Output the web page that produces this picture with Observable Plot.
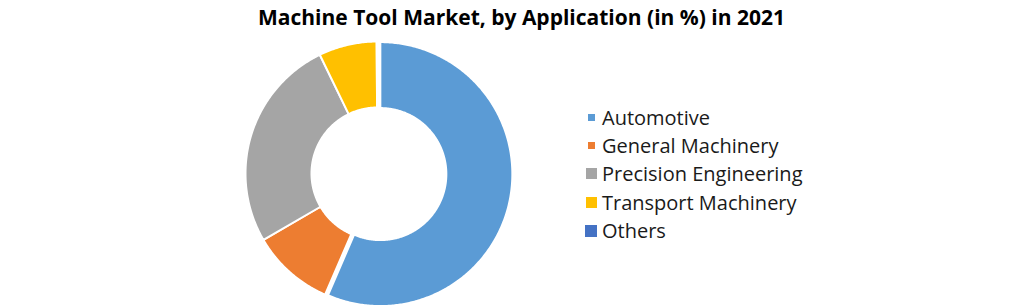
<!DOCTYPE html>
<html>
<head>
<meta charset="utf-8">
<script src="https://cdn.jsdelivr.net/npm/d3@7"></script>
<script src="https://cdn.jsdelivr.net/npm/@observablehq/plot@0.6"></script>
<style>
  html, body { margin: 0; padding: 0; background: #fff; }
  #chart { position: relative; width: 1031px; height: 308px; overflow: hidden; font-family: "Open Sans", Lato, sans-serif; }
  #title { position: absolute; left: 0; top: 2px; width: 1043px; text-align: center; font-weight: bold; font-size: 21px; line-height: 30px; color: #000; }
  #plot { position: absolute; left: 0; top: 36px; }
  #legend { position: absolute; left: 584px; top: 103px; }
  .row { display: flex; align-items: center; height: 28.4px; font-size: 20px; color: #1a1a1a; }
  .swatch-cell { width: 14px; display: flex; justify-content: center; align-items: center; margin-right: 4px; }
</style>
</head>
<body>
<div id="chart">
  <div id="title"></div>
  <div id="plot"></div>
  <div id="legend"></div>
</div>
<script>
// Share of machine tool market by application, 2021 (%)
const title = "Machine Tool Market, by Application (in %) in 2021";
const categories = ["Automotive", "General Machinery", "Precision Engineering", "Transport Machinery", "Others"];
const shares = [56.5, 10.1, 26.2, 7.1, 0.1];
const colors = ["#5B9BD5", "#ED7D31", "#A5A5A5", "#FFC000", "#4472C4"];

// Legend marker sizes (px)
const markerSizes = [7, 7, 11, 11, 12];

const rows = categories.map((category, i) => ({category, share: shares[i]}));

// Doughnut geometry in unit coordinates
const innerRatio = 0.5;
const explode = {Automotive: 0.022};

const arcs = d3.pie().sort(null).value(d => d.share)(rows);
const points = arcs.flatMap(a => {
  const mid = (a.startAngle + a.endAngle) / 2;
  const off = explode[a.data.category] || 0;
  const ox = off * Math.sin(mid), oy = off * Math.cos(mid);
  const n = Math.max(2, Math.ceil((a.endAngle - a.startAngle) / 0.01));
  const pts = [];
  for (let i = 0; i <= n; i++) {
    const t = a.startAngle + (a.endAngle - a.startAngle) * i / n;
    pts.push({category: a.data.category, x: ox + Math.sin(t), y: oy + Math.cos(t)});
  }
  for (let i = n; i >= 0; i--) {
    const t = a.startAngle + (a.endAngle - a.startAngle) * i / n;
    pts.push({category: a.data.category, x: ox + innerRatio * Math.sin(t), y: oy + innerRatio * Math.cos(t)});
  }
  return pts;
});

const plot = Plot.plot({
  width: 1031,
  height: 272,
  marginLeft: 245,
  marginRight: 522,
  marginTop: 5,
  marginBottom: 3,
  x: {domain: [-1, 1], axis: null},
  y: {domain: [-1, 1], axis: null},
  color: {domain: categories, range: colors},
  marks: [
    Plot.line(points, {
      x: "x", y: "y", z: "category", fill: "category",
      stroke: "white", strokeWidth: 2, curve: "linear-closed"
    })
  ]
});
document.getElementById("plot").append(plot);

document.getElementById("title").textContent = title;

const legend = d3.select("#legend");
categories.forEach((c, i) => {
  const row = legend.append("div").attr("class", "row");
  row.append("span").attr("class", "swatch-cell")
    .append("span")
    .style("display", "inline-block")
    .style("width", markerSizes[i] + "px")
    .style("height", markerSizes[i] + "px")
    .style("background", colors[i]);
  row.append("span").text(c);
});
</script>
</body>
</html>
